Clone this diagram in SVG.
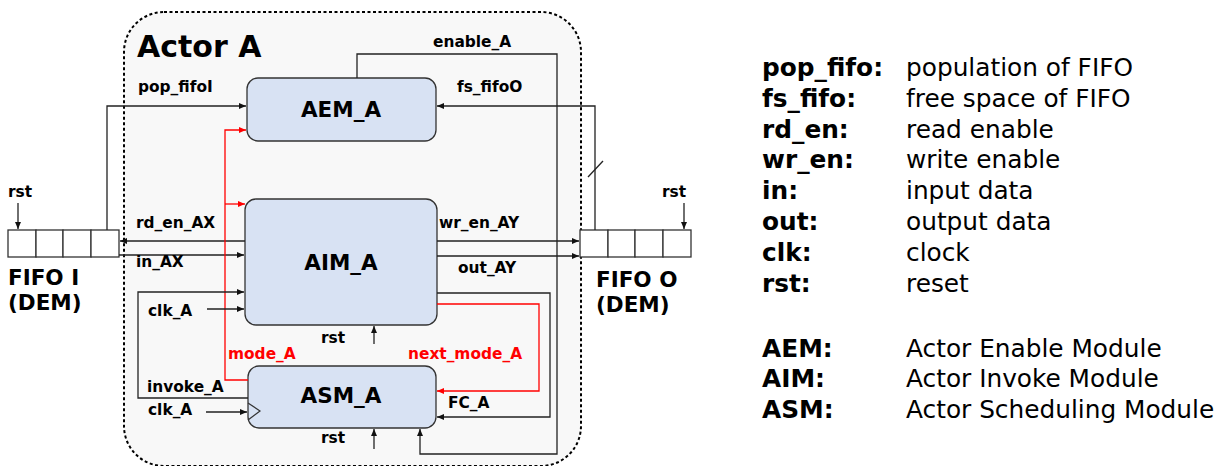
<svg xmlns="http://www.w3.org/2000/svg" width="1225" height="466" viewBox="0 0 1225 466">
<style>
text{font-family:"DejaVu Sans","Liberation Sans",sans-serif;}
.lb{font-size:15.4px;font-weight:bold;fill:#000;}
.red{fill:#f00;}
.mod{font-size:21.5px;font-weight:bold;text-anchor:middle;}
.box{fill:#d8e2f3;stroke:#333;stroke-width:1.3;}
.cell{fill:#fff;stroke:#333;stroke-width:1.3;}
.w{fill:none;stroke:#222;stroke-width:1.3;}
.r{fill:none;stroke:#f00;stroke-width:1.3;}
.lgb{font-size:24.8px;font-weight:bold;}
.lgn{font-size:24.8px;}
.big{font-size:21.5px;font-weight:bold;}
</style>
<defs>
<marker id="a" markerUnits="userSpaceOnUse" markerWidth="8" markerHeight="7" refX="7" refY="3.5" orient="auto"><path d="M0,0.5 L7,3.5 L0,6.5 z" fill="#111"/></marker>
<marker id="ar" markerUnits="userSpaceOnUse" markerWidth="8" markerHeight="7" refX="7" refY="3.5" orient="auto"><path d="M0,0.5 L7,3.5 L0,6.5 z" fill="#f00"/></marker>
</defs>
<rect width="1225" height="466" fill="#fff"/>
<g id="actorA">
<rect x="124" y="12" width="457" height="454" rx="40" fill="#f8f8f8" stroke="#000" stroke-width="2" stroke-dasharray="3,2.5"/>
<text x="137" y="57" style="font-size:30px;font-weight:bold">Actor A</text>
</g>
<g id="fifoI">
<rect class="cell" x="8" y="230" width="28" height="27"/>
<rect class="cell" x="36" y="230" width="27" height="27"/>
<rect class="cell" x="63" y="230" width="28" height="27"/>
<rect class="cell" x="91" y="230" width="28" height="27"/>
<text class="big" x="8" y="285">FIFO I</text>
<text class="big" x="8" y="310">(DEM)</text>
<text class="lb" x="8" y="197">rst</text>
</g>
<g id="fifoO">
<rect class="cell" x="580" y="230" width="28" height="27"/>
<rect class="cell" x="608" y="230" width="27" height="27"/>
<rect class="cell" x="635" y="230" width="28" height="27"/>
<rect class="cell" x="663" y="230" width="28" height="27"/>
<text class="big" x="596" y="287">FIFO O</text>
<text class="big" x="596" y="312">(DEM)</text>
<text class="lb" x="662" y="197">rst</text>
</g>
<g id="AEM">
<rect class="box" x="247" y="78" width="189" height="63" rx="11"/>
<text class="mod" x="341" y="117">AEM_A</text>
</g>
<g id="AIM">
<rect class="box" x="245" y="199" width="192" height="126" rx="11"/>
<text class="mod" x="341" y="270">AIM_A</text>
</g>
<g id="ASM">
<rect class="box" x="248" y="366" width="188" height="62" rx="11"/>
<path d="M248,403 L260,411 L248,420" fill="none" stroke="#333" stroke-width="1.2"/>
<text class="mod" x="341" y="403">ASM_A</text>
</g>
<g id="connectors">
<path class="w" d="M18,203 V229" marker-end="url(#a)"/>
<path class="w" d="M684,203 V229" marker-end="url(#a)"/>
<path class="w" d="M107,230 V106 H246" marker-end="url(#a)"/>
<path class="w" d="M357,78 V54 H557 V454 H420 V429" marker-end="url(#a)"/>
<path class="w" d="M595,230 V106 H437" marker-end="url(#a)"/>
<path class="w" d="M588,177 L603,161"/>
<path class="w" d="M245,241 H120" marker-end="url(#a)"/>
<path class="w" d="M119,255 H244" marker-end="url(#a)"/>
<path class="w" d="M437,241 H579" marker-end="url(#a)"/>
<path class="w" d="M437,256 H579" marker-end="url(#a)"/>
<path class="w" d="M437,293 H550 V417 H437" marker-end="url(#a)"/>
<path class="r" d="M437,304 H539 V391 H437" marker-end="url(#ar)"/>
<path class="r" d="M248,380 H225 V130 H246" marker-end="url(#ar)"/>
<path class="r" d="M225,204 H245" marker-end="url(#ar)"/>
<path class="w" d="M248,398 H138 V292 H244" marker-end="url(#a)"/>
<path class="w" d="M207,309 H244" marker-end="url(#a)"/>
<path class="w" d="M206,412 H247" marker-end="url(#a)"/>
<path class="w" d="M374,344 V326" marker-end="url(#a)"/>
<path class="w" d="M374,449 V429" marker-end="url(#a)"/>
</g>
<g id="labels">
<text class="lb" x="138" y="92">pop_fifoI</text>
<text class="lb" x="433" y="47">enable_A</text>
<text class="lb" x="457" y="92">fs_fifoO</text>
<text class="lb" x="136" y="228">rd_en_AX</text>
<text class="lb" x="136" y="267">in_AX</text>
<text class="lb" x="439" y="228">wr_en_AY</text>
<text class="lb" x="458" y="273">out_AY</text>
<text class="lb" x="148" y="316">clk_A</text>
<text class="lb red" x="228" y="359">mode_A</text>
<text class="lb red" x="408" y="359">next_mode_A</text>
<text class="lb" x="147" y="392">invoke_A</text>
<text class="lb" x="148" y="415">clk_A</text>
<text class="lb" x="448" y="408">FC_A</text>
<text class="lb" x="321" y="343">rst</text>
<text class="lb" x="321" y="443">rst</text>
</g>
<g id="legend">
<text class="lgb" x="762" y="76">pop_fifo:</text><text class="lgn" x="906" y="76">population of FIFO</text>
<text class="lgb" x="762" y="107">fs_fifo:</text><text class="lgn" x="906" y="107">free space of FIFO</text>
<text class="lgb" x="762" y="138">rd_en:</text><text class="lgn" x="906" y="138">read enable</text>
<text class="lgb" x="762" y="168">wr_en:</text><text class="lgn" x="906" y="168">write enable</text>
<text class="lgb" x="762" y="199">in:</text><text class="lgn" x="906" y="199">input data</text>
<text class="lgb" x="762" y="230">out:</text><text class="lgn" x="906" y="230">output data</text>
<text class="lgb" x="762" y="261">clk:</text><text class="lgn" x="906" y="261">clock</text>
<text class="lgb" x="762" y="292">rst:</text><text class="lgn" x="906" y="292">reset</text>
<text class="lgb" x="762" y="357">AEM:</text><text class="lgn" x="906" y="357">Actor Enable Module</text>
<text class="lgb" x="762" y="387">AIM:</text><text class="lgn" x="906" y="387">Actor Invoke Module</text>
<text class="lgb" x="762" y="418">ASM:</text><text class="lgn" x="906" y="418">Actor Scheduling Module</text>
</g>
</svg>
